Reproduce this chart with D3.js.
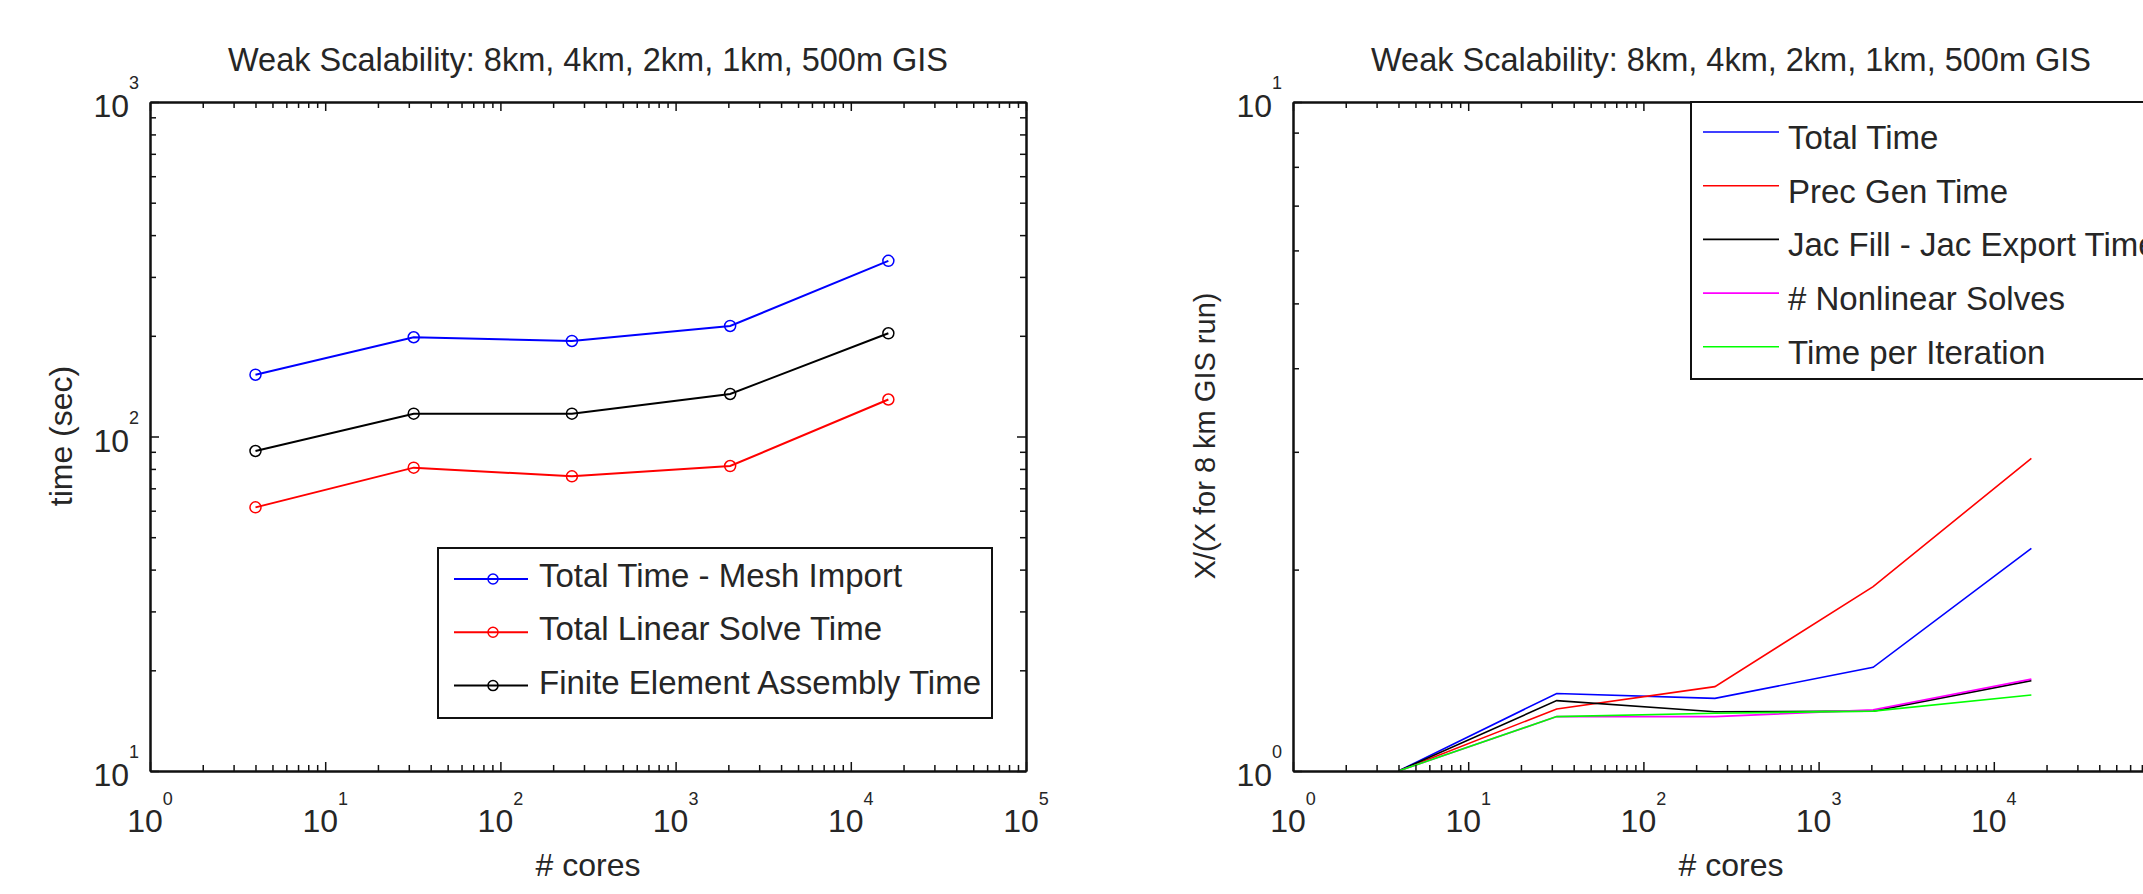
<!DOCTYPE html>
<meta charset="utf-8">
<style>
    body { margin: 0; background: #fff; }
    svg { display: block; font-family: "Liberation Sans", Arial, sans-serif; }
    .domain { stroke: #111; stroke-width: 2px; }
    .tick line { stroke: #111; stroke-width: 1.5px; }
</style>
<body>
<script src="https://cdn.jsdelivr.net/npm/d3@7"></script>
<script>
    /* data */
    var cores = [4, 32, 256, 2048, 16384];

    // left panel: absolute times (sec)
    var leftNames = ["Total Time - Mesh Import", "Total Linear Solve Time", "Finite Element Assembly Time"];
    var totalMinusMesh = [153, 198, 193, 214, 335];
    var linearSolve = [61.4, 80.7, 76, 81.6, 129];
    var feAssembly = [90.5, 117, 117, 134, 203.5];

    // right panel: ratio to the 8 km GIS run
    var rightNames = ["Total Time", "Prec Gen Time", "Jac Fill - Jac Export Time", "# Nonlinear Solves", "Time per Iteration"];
    var totalTimeRatio = [1, 1.306, 1.284, 1.429, 2.152];
    var precGenRatio = [1, 1.238, 1.337, 1.886, 2.934];
    var jacFillRatio = [1, 1.274, 1.226, 1.229, 1.365];
    var nonlinRatio = [1, 1.206, 1.206, 1.234, 1.372];
    var timePerIterRatio = [1, 1.206, 1.22, 1.229, 1.299];

    var titleText = "Weak Scalability: 8km, 4km, 2km, 1km, 500m GIS";
    var xLabelText = "# cores";

    /* layout */
    var W = 2143, H = 894;
    var plotTop = 102, plotBottom = 771, plotW = 876;
    var leftX0 = 150, rightX0 = 1293;
    var textCol = "#262626";

    var svg = d3.select("body").append("svg")
        .attr("width", W)
        .attr("height", H);

    function minorTicks(d0, d1) {
        var t = [];
        for (var d = d0; d < d1; d++) {
            for (var k = 2; k <= 9; k++) t.push(k * Math.pow(10, d));
        }
        return t;
    }
    function majorTicks(d0, d1) {
        return d3.range(d0, d1 + 1).map(function (d) { return Math.pow(10, d); });
    }

    function drawFrame(g, xScale, yScale, xd, yd) {
        var x0 = xScale.range()[0], x1 = xScale.range()[1];
        var xMin = minorTicks(xd[0], xd[1]), xMaj = majorTicks(xd[0], xd[1]);
        var yMin = minorTicks(yd[0], yd[1]), yMaj = majorTicks(yd[0], yd[1]);

        [[xMin, 6], [xMaj, 9]].forEach(function (p) {
            g.append("g").attr("transform", "translate(0," + plotBottom + ")")
                .call(d3.axisBottom(xScale).tickValues(p[0]).tickSizeInner(-p[1]).tickSizeOuter(0).tickFormat(""));
            g.append("g").attr("transform", "translate(0," + plotTop + ")")
                .call(d3.axisTop(xScale).tickValues(p[0]).tickSizeInner(-p[1]).tickSizeOuter(0).tickFormat(""));
        });
        [[yMin, 6], [yMaj, 9]].forEach(function (p) {
            g.append("g").attr("transform", "translate(" + x0 + ",0)")
                .call(d3.axisLeft(yScale).tickValues(p[0]).tickSizeInner(-p[1]).tickSizeOuter(0).tickFormat(""));
            g.append("g").attr("transform", "translate(" + x1 + ",0)")
                .call(d3.axisRight(yScale).tickValues(p[0]).tickSizeInner(-p[1]).tickSizeOuter(0).tickFormat(""));
        });

        // x tick labels 10^n
        xMaj.forEach(function (v) {
            var t = g.append("text")
                .attr("x", xScale(v)).attr("y", 832)
                .attr("text-anchor", "middle")
                .attr("fill", textCol)
                .style("font-size", "32px");
            t.append("tspan").text("10");
            t.append("tspan").attr("dy", -27).style("font-size", "18px").text(Math.round(Math.log10(v)));
        });
        // y tick labels 10^n
        yMaj.forEach(function (v) {
            var t = g.append("text")
                .attr("x", x0 - 11).attr("y", yScale(v) + 15)
                .attr("text-anchor", "end")
                .attr("fill", textCol)
                .style("font-size", "32px");
            t.append("tspan").text("10");
            t.append("tspan").attr("dy", -28).style("font-size", "18px").text(Math.round(Math.log10(v)));
        });

        // title and x label
        g.append("text")
            .attr("x", (x0 + x1) / 2).attr("y", 71)
            .attr("text-anchor", "middle")
            .attr("fill", textCol)
            .style("font-size", "32.5px")
            .text(titleText);
        g.append("text")
            .attr("x", (x0 + x1) / 2).attr("y", 876)
            .attr("text-anchor", "middle")
            .attr("fill", textCol)
            .style("font-size", "32px")
            .text(xLabelText);
    }

    /* ---------- left panel ---------- */
    var xL = d3.scaleLog().domain([1, 1e5]).range([leftX0, leftX0 + plotW]);
    var yL = d3.scaleLog().domain([10, 1000]).range([plotBottom, plotTop]);
    var gL = svg.append("g");

    var leftSeries = [
        { name: leftNames[0], values: totalMinusMesh, color: "#0000ff" },
        { name: leftNames[1], values: linearSolve, color: "#ff0000" },
        { name: leftNames[2], values: feAssembly, color: "#000000" }
    ];

    var lineL = d3.line()
        .x(function (d) { return xL(d[0]); })
        .y(function (d) { return yL(d[1]); });

    leftSeries.forEach(function (s) {
        var pts = d3.zip(cores, s.values);
        gL.append("path")
            .attr("d", lineL(pts))
            .attr("fill", "none")
            .attr("stroke", s.color)
            .attr("stroke-width", 2);
        gL.selectAll(null)
            .data(pts)
            .enter()
            .append("circle")
            .attr("cx", function (d) { return xL(d[0]); })
            .attr("cy", function (d) { return yL(d[1]); })
            .attr("r", 5.5)
            .attr("fill", "none")
            .attr("stroke", s.color)
            .attr("stroke-width", 1.5);
    });

    drawFrame(gL, xL, yL, [0, 5], [1, 3]);

    gL.append("text")
        .attr("transform", "translate(72,436) rotate(-90)")
        .attr("text-anchor", "middle")
        .attr("fill", textCol)
        .style("font-size", "32px")
        .text("time (sec)");

    // left legend
    var legL = gL.append("g");
    legL.append("rect")
        .attr("x", 438).attr("y", 548)
        .attr("width", 554).attr("height", 170)
        .attr("fill", "#fff")
        .attr("stroke", "#111")
        .attr("stroke-width", 2);
    leftSeries.forEach(function (s, i) {
        var y = 579 + i * 53.3;
        legL.append("line")
            .attr("x1", 454).attr("x2", 528)
            .attr("y1", y).attr("y2", y)
            .attr("stroke", s.color).attr("stroke-width", 2);
        legL.append("circle")
            .attr("cx", 493).attr("cy", y).attr("r", 5)
            .attr("fill", "none").attr("stroke", s.color).attr("stroke-width", 1.5);
        legL.append("text")
            .attr("x", 539).attr("y", y + 8)
            .attr("fill", textCol)
            .style("font-size", "33px")
            .text(s.name);
    });

    /* ---------- right panel ---------- */
    var xR = d3.scaleLog().domain([1, 1e5]).range([rightX0, rightX0 + plotW]);
    var yR = d3.scaleLog().domain([1, 10]).range([plotBottom, plotTop]);
    var gR = svg.append("g");

    var rightSeries = [
        { name: rightNames[0], values: totalTimeRatio, color: "#0000ff" },
        { name: rightNames[1], values: precGenRatio, color: "#ff0000" },
        { name: rightNames[2], values: jacFillRatio, color: "#000000" },
        { name: rightNames[3], values: nonlinRatio, color: "#ff00ff" },
        { name: rightNames[4], values: timePerIterRatio, color: "#00ff00" }
    ];

    var lineR = d3.line()
        .x(function (d) { return xR(d[0]); })
        .y(function (d) { return yR(d[1]); });

    rightSeries.forEach(function (s) {
        gR.append("path")
            .attr("d", lineR(d3.zip(cores, s.values)))
            .attr("fill", "none")
            .attr("stroke", s.color)
            .attr("stroke-width", 1.6);
    });

    drawFrame(gR, xR, yR, [0, 5], [0, 1]);

    gR.append("text")
        .attr("transform", "translate(1215,436) rotate(-90)")
        .attr("text-anchor", "middle")
        .attr("fill", textCol)
        .style("font-size", "29px")
        .text("X/(X for 8 km GIS run)");

    // right legend
    var legR = gR.append("g");
    legR.append("rect")
        .attr("x", 1691).attr("y", 102)
        .attr("width", 520).attr("height", 277)
        .attr("fill", "#fff")
        .attr("stroke", "#111")
        .attr("stroke-width", 2);
    rightSeries.forEach(function (s, i) {
        var y = 132 + i * 53.7;
        legR.append("line")
            .attr("x1", 1703).attr("x2", 1779)
            .attr("y1", y).attr("y2", y)
            .attr("stroke", s.color).attr("stroke-width", 1.6);
        legR.append("text")
            .attr("x", 1788).attr("y", y + 17)
            .attr("fill", textCol)
            .style("font-size", "33px")
            .text(s.name);
    });
</script>
</body>
